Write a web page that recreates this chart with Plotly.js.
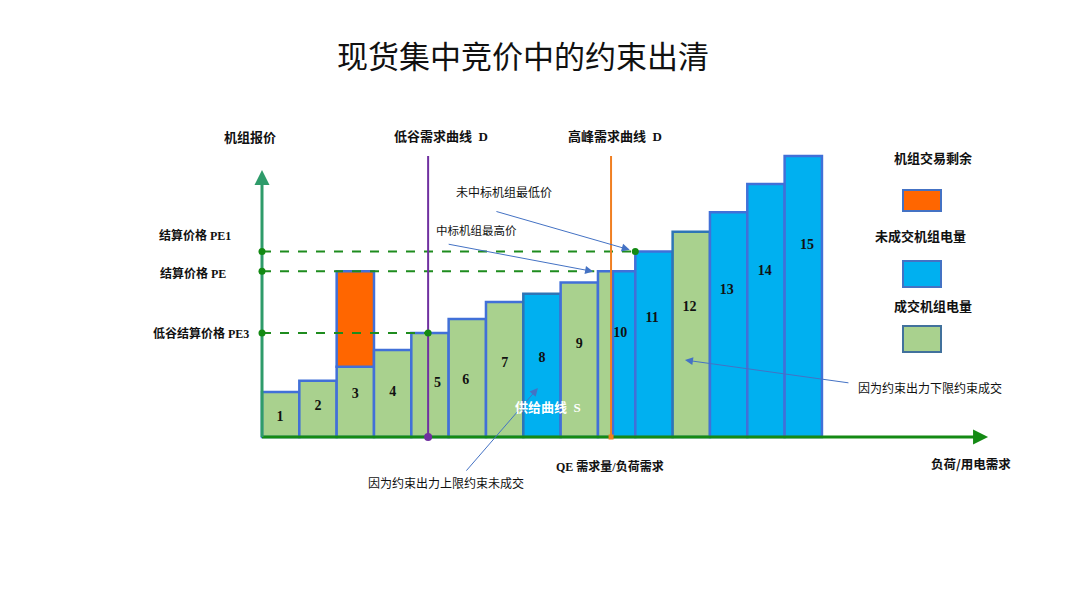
<!DOCTYPE html>
<html>
<head>
<meta charset="utf-8">
<script src="https://cdn.plot.ly/plotly-3.0.1.min.js"></script>
<style>html,body{margin:0;padding:0;background:#fff;}#chart{width:1080px;height:608px;}</style>
</head>
<body>
<div id="chart"></div>
<script>
// ---- data ----
var units = ['1','2','3','4','5','6','7','8','9','10','11','12','13','14','15'];
var capacity = [1,1,1,1,1,1,1,1,1,1,1,1,1,1,1];
var bidPrice = [16,20,25,31,37,42,48,51,55,59,66,73,80,90,100];
var clearedShare = [1,1,1,1,1,1,1,0,1,0.4,0,1,0,0,0];
var surplusUnits = ['3'];
var PE = 59, PE1 = 66, PE3 = 37;
var QE = 9.35, QLow = 4.45;
var labelX = [0.48,1.5,2.5,3.5,4.7,5.46,6.5,7.5,8.5,9.6,10.45,11.45,12.45,13.47,14.6];
var labelY = [7,11,15,16,19,20,26,28,33,37,42,46,52,59,68];
var xAxisEnd = 19.45, yAxisEnd = 95, demandTop = 100;

// ---- geometry of the page ----
var W = 1080, H = 608;
var x0px = 262, pxX = 37.33, y0px = 437, pxY = 2.81;
var xr = [-x0px/pxX, (W-x0px)/pxX];
var yr = [(y0px-H)/pxY, y0px/pxY];
function P(px, py){ return {x: px/W, y: 1 - py/H}; }

var GREEN = '#A9D18E', BLUE = '#00B0F0', ORANGE = '#FF6600';
var BORDER = '#4170D8', BORDER_DARK = '#2E75B6';
var darkBorder = ['8','12'];
var CJK = '"Noto Sans CJK SC", sans-serif';
var MIX = '"Liberation Serif", "Noto Sans CJK SC", serif';

// build bar segments
var segX=[], segW=[], segBase=[], segLen=[], segCol=[], segLine=[];
var cum = 0;
for (var i=0;i<units.length;i++){
  var c = capacity[i], g = c*clearedShare[i];
  var lc = darkBorder.indexOf(units[i])>=0 ? BORDER_DARK : BORDER;
  if (g>0){ segX.push(cum+g/2); segW.push(g); segBase.push(0); segLen.push(bidPrice[i]); segCol.push(GREEN); segLine.push(lc); }
  if (c-g>0){ segX.push(cum+g+(c-g)/2); segW.push(c-g); segBase.push(0); segLen.push(bidPrice[i]); segCol.push(BLUE); segLine.push(lc); }
  if (surplusUnits.indexOf(units[i])>=0){
    segX.push(cum+c/2); segW.push(c); segBase.push(bidPrice[i]); segLen.push(PE-bidPrice[i]); segCol.push(ORANGE); segLine.push(BORDER);
  }
  cum += c;
}
var starts = []; cum = 0;
for (var j=0;j<capacity.length;j++){ starts.push(cum); cum += capacity[j]; }
var i11 = units.indexOf('11');
var i10 = units.indexOf('10');

var traces = [
  {type:'scatter', mode:'lines', x:[0, xAxisEnd-0.2], y:[0,0], line:{color:'#148A14', width:3}, hoverinfo:'skip'},
  {type:'scatter', mode:'lines', x:[0,0], y:[0, yAxisEnd-3], line:{color:'#2E9B6A', width:3}, hoverinfo:'skip'},
  {type:'bar', x:segX, y:segLen, base:segBase, width:segW,
   marker:{color:segCol, line:{color:segLine, width:2.5}}, hoverinfo:'skip'},
  {type:'scatter', mode:'lines', x:[0, starts[i11]], y:[PE1,PE1], line:{color:'#1E8C1E', width:2, dash:'dash'}, hoverinfo:'skip'},
  {type:'scatter', mode:'lines', x:[0, starts[i10]-0.1], y:[PE,PE], line:{color:'#1E8C1E', width:2, dash:'dash'}, hoverinfo:'skip'},
  {type:'scatter', mode:'lines', x:[0, QLow], y:[PE3,PE3], line:{color:'#1E8C1E', width:2, dash:'dash'}, hoverinfo:'skip'},
  {type:'scatter', mode:'lines', x:[QLow,QLow], y:[0,demandTop], line:{color:'#7030A0', width:2}, hoverinfo:'skip'},
  {type:'scatter', mode:'lines', x:[QE,QE], y:[0,demandTop], line:{color:'#F07F22', width:2}, hoverinfo:'skip'},
  {type:'scatter', mode:'markers', x:[0,0,0,QLow,starts[i11]], y:[PE1,PE,PE3,PE3,PE1], marker:{color:'#138A13', size:7}, hoverinfo:'skip'},
  {type:'scatter', mode:'markers', x:[QLow], y:[0], marker:{color:'#7030A0', size:8}, hoverinfo:'skip'},
  {type:'scatter', mode:'markers', x:[QE], y:[0], marker:{color:'#F07F22', size:5, symbol:'square'}, hoverinfo:'skip'},
  {type:'scatter', mode:'text', x:labelX, y:labelY, text:units,
   textfont:{family:'"Liberation Serif", serif', size:14, color:'#111', weight:'bold'}, hoverinfo:'skip'}
];

var ann = [];
function txt(t, px, py, size, opts){
  var p = P(px, py); opts = opts||{};
  ann.push({xref:'paper', yref:'paper', x:p.x, y:p.y, xanchor:'center', yanchor:'middle', text:t, showarrow:false,
    font:{family:opts.family||CJK, size:size, color:opts.color||'#111', weight:opts.bold?'bold':'normal'}});
}
function arr(tx, ty, hx, hy, color, width, size){
  ann.push({xref:'x', yref:'y', axref:'x', ayref:'y', x:hx, y:hy, ax:tx, ay:ty, text:'', showarrow:true,
    arrowhead:2, arrowsize:size, arrowwidth:width, arrowcolor:color, standoff:0, startstandoff:0});
}
arr(xAxisEnd-0.4, 0, xAxisEnd, 0, '#148A14', 3, 1);
arr(0, yAxisEnd-5, 0, yAxisEnd, '#2E9B6A', 3, 1);
arr(6.24, 80.4, 9.85, 66.6, '#4472C4', 1, 1.6);
arr(4.96, 68.7, 8.87, 58.9, '#4472C4', 1, 1.6);
arr(5.44, -12.5, 7.39, 17.4, '#4472C4', 1, 1.6);
arr(15.75, 19.2, 11.33, 27.4, '#4472C4', 1, 1.6);

txt('机组报价', 250, 136, 13, {bold:true});
txt('低谷需求曲线  D', 441, 137, 13, {bold:true, family:MIX});
txt('高峰需求曲线  D', 615, 137, 13, {bold:true, family:MIX});
txt('未中标机组最低价', 504, 191, 12);
txt('中标机组最高价', 476, 230, 11.5);
txt('结算价格 PE1', 195, 236, 12, {bold:true, family:MIX});
txt('结算价格 PE', 193, 273, 12, {bold:true, family:MIX});
txt('低谷结算价格 PE3', 201, 333, 12, {bold:true, family:MIX});
txt('供给曲线  S', 548, 407, 13, {bold:true, color:'#FFFFFF', family:MIX});
txt('QE 需求量/负荷需求', 610, 466, 12, {bold:true, family:MIX});
txt('因为约束出力上限约束未成交', 446, 482, 12);
txt('因为约束出力下限约束成交', 930, 387, 12);
txt('负荷/用电需求', 971, 463, 12.5, {bold:true});
txt('机组交易剩余', 933, 157, 13, {bold:true});
txt('未成交机组电量', 920, 235, 13, {bold:true});
txt('成交机组电量', 933, 305, 13, {bold:true});

function box(x1,y1,x2,y2,fill,line){
  var a=P(x1,y1), b=P(x2,y2);
  return {type:'rect', xref:'paper', yref:'paper', x0:a.x, y0:b.y, x1:b.x, y1:a.y, fillcolor:fill, line:{color:line, width:2}};
}
var shapes = [
  box(903,190,941,211,ORANGE,'#4472C4'),
  box(903,261,941,287,BLUE,'#4472C4'),
  box(903,326,941,352,GREEN,'#41719C')
];

var layout = {
  width:W, height:H, margin:{l:0,r:0,t:0,b:0},
  paper_bgcolor:'#fff', plot_bgcolor:'#fff', showlegend:false, hovermode:false,
  barmode:'overlay',
  title:{text:'现货集中竞价中的约束出清', x:523/W, xanchor:'center', y:1-57/H, yanchor:'middle', yref:'paper',
    font:{family:CJK, size:31, color:'#111'}},
  xaxis:{range:xr, visible:false, fixedrange:true},
  yaxis:{range:yr, visible:false, fixedrange:true},
  annotations:ann, shapes:shapes
};
Plotly.newPlot('chart', traces, layout, {displayModeBar:false, staticPlot:true});
</script>
</body>
</html>
